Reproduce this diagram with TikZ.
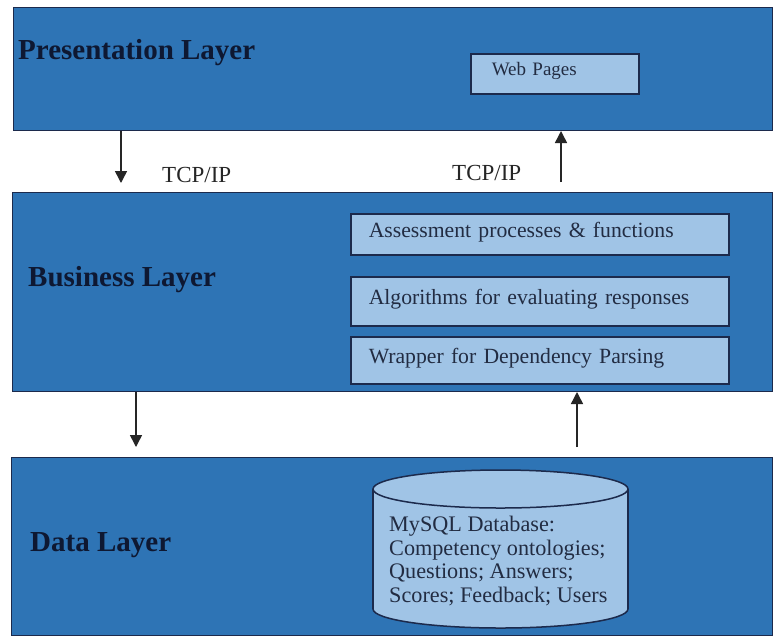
\documentclass[tikz,border=0pt]{standalone}
\usepackage{fontspec}
\setmainfont{Liberation Serif}
\usetikzlibrary{arrows.meta}
\definecolor{layerblue}{RGB}{46,116,181}
\definecolor{lightblue}{RGB}{160,196,230}
\definecolor{navy}{RGB}{14,24,50}
\definecolor{edgecol}{RGB}{28,42,76}
\definecolor{boxtext}{RGB}{34,44,66}
\begin{document}
\begin{tikzpicture}[x=1pt,y=-1pt,
  layer/.style={draw=edgecol, line width=1pt, fill=layerblue, anchor=north west, inner sep=0pt},
  comp/.style={draw=edgecol, line width=1.5pt, fill=lightblue, anchor=north west,
    inner xsep=18pt, inner ysep=0pt, align=left, text depth=9pt,
    font=\fontsize{21.7}{24}\selectfont, text=boxtext},
  title/.style={font=\bfseries\fontsize{29}{31}\selectfont, text=navy, anchor=west, inner sep=0pt},
  proto/.style={font=\fontsize{23}{25}\selectfont, text=black!85, anchor=west, inner sep=0pt},
  flow/.style={line width=1.5pt, draw=black!85, -{Triangle[width=12pt,length=12pt]}}
]
\useasboundingbox (0,0) rectangle (775,638);
\fill[white] (0,0) rectangle (775,638);

% layers
\node[layer, minimum width=759pt, minimum height=123pt] (pres) at (13,7) {};
\node[layer, minimum width=760pt, minimum height=199pt] (bus) at (12,192) {};
\node[layer, minimum width=761pt, minimum height=178pt] (data) at (11,457) {};

% titles
\node[title] (prest) at (18,53) {Presentation Layer};
\node[title] (bust) at (28,280) {Business Layer};
\node[title] (datat) at (30,545) {Data Layer};

% presentation component
\node[comp, minimum height=40pt, text width=126pt, inner xsep=21pt,
      font=\fontsize{19}{21}\selectfont] (web) at (470,53) {Web Pages};

% business components
\node[comp, minimum height=41pt, text width=342pt] (assess) at (350,213) {Assessment processes \& functions};
\node[comp, minimum height=49pt, text width=342pt] (algo) at (350,276) {Algorithms for evaluating responses};
\node[comp, minimum height=47pt, text width=342pt] (wrap) at (350,336) {Wrapper for Dependency Parsing};

% database cylinder
\filldraw[fill=lightblue, draw=edgecol, line width=1.5pt] (500.5,609) ellipse [x radius=127.5pt, y radius=19pt];
\fill[lightblue] (373,489) rectangle (628,609);
\draw[edgecol, line width=1.5pt] (373,489) -- (373,609) (628,489) -- (628,609);
\filldraw[fill=lightblue, draw=edgecol, line width=1.5pt] (500.5,489) ellipse [x radius=127.5pt, y radius=19pt];
\node[anchor=west, align=left, inner sep=0pt, font=\fontsize{22.2}{23.5}\selectfont, text=boxtext] (db) at (389,561)
  {MySQL Database:\\Competency ontologies;\\Questions; Answers;\\Scores; Feedback; Users};

% arrows
\coordinate (ax1) at (121,0);
\coordinate (ax2) at (561,0);
\coordinate (ax3) at (136,0);
\coordinate (ax4) at (577,0);
\draw[flow, shorten >=9pt] (pres.south -| ax1) -- (bus.north -| ax1);
\draw[flow, shorten <=10pt] (bus.north -| ax2) -- (pres.south -| ax2);
\draw[flow, shorten >=10pt] (bus.south -| ax3) -- (data.north -| ax3);
\draw[flow, shorten <=10pt] (data.north -| ax4) -- (bus.south -| ax4);

% protocol labels
\node[proto] (tcp1) at (162,175) {TCP/IP};
\node[proto] (tcp2) at (452,173) {TCP/IP};
\end{tikzpicture}
\end{document}
